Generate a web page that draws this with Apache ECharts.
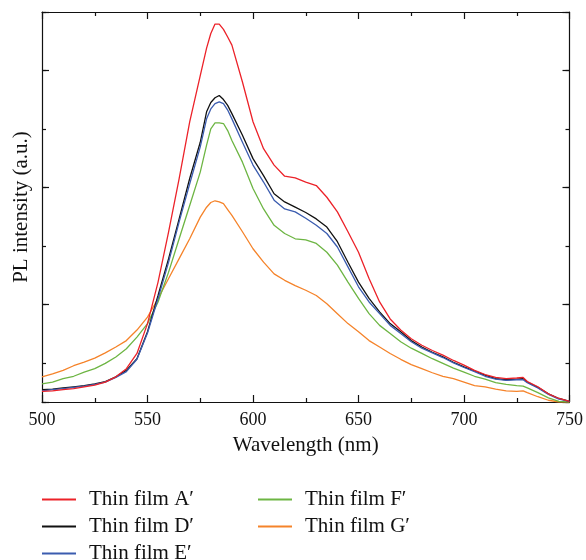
<!DOCTYPE html>
<html>
<head>
<meta charset="utf-8">
<script src="https://cdn.jsdelivr.net/npm/echarts@6/dist/echarts.min.js"></script>
<style>html,body{margin:0;padding:0;background:#fff;}#c{width:586px;height:560px;}</style>
</head>
<body>
<div id="c"></div>
<script>
// Wavelength grid (nm)
var wavelength = [500,505,510,515,520,525,530,535,540,545,550,555,560,565,570,575,578,580,582,584,586,588,590,595,600,605,610,615,620,625,630,635,640,645,650,655,660,665,670,675,680,685,690,695,700,705,710,715,720,725,728,730,735,740,745,750];
// PL intensity (a.u.)
var filmA = [0.18,0.19,0.21,0.23,0.26,0.29,0.34,0.43,0.57,0.83,1.34,2.05,2.91,3.82,4.79,5.58,6.05,6.30,6.46,6.46,6.37,6.24,6.10,5.47,4.79,4.33,4.05,3.86,3.83,3.76,3.70,3.50,3.25,2.91,2.56,2.11,1.71,1.42,1.23,1.08,0.97,0.88,0.80,0.71,0.63,0.54,0.47,0.42,0.40,0.41,0.42,0.35,0.26,0.14,0.06,0.01];
var filmD = [0.21,0.22,0.24,0.26,0.28,0.31,0.35,0.43,0.54,0.74,1.20,1.82,2.45,3.13,3.82,4.44,4.96,5.12,5.20,5.24,5.17,5.07,4.93,4.56,4.16,3.87,3.56,3.42,3.33,3.24,3.13,2.99,2.74,2.39,2.05,1.77,1.54,1.34,1.20,1.05,0.94,0.85,0.77,0.68,0.60,0.53,0.46,0.40,0.38,0.39,0.40,0.34,0.25,0.14,0.06,0.01];
var filmE = [0.19,0.21,0.23,0.25,0.27,0.30,0.34,0.42,0.52,0.73,1.18,1.77,2.39,3.08,3.73,4.36,4.84,5.01,5.10,5.13,5.10,4.99,4.84,4.44,4.05,3.76,3.45,3.30,3.25,3.14,3.02,2.88,2.65,2.31,1.97,1.71,1.51,1.31,1.17,1.03,0.92,0.84,0.76,0.67,0.59,0.52,0.44,0.39,0.37,0.38,0.38,0.33,0.24,0.13,0.05,0.01];
var filmF = [0.31,0.34,0.40,0.44,0.51,0.57,0.66,0.77,0.91,1.11,1.34,1.71,2.22,2.79,3.36,3.93,4.39,4.67,4.77,4.77,4.76,4.64,4.47,4.10,3.65,3.30,3.02,2.88,2.79,2.77,2.71,2.56,2.34,2.05,1.77,1.51,1.31,1.17,1.03,0.92,0.83,0.74,0.66,0.58,0.51,0.44,0.39,0.33,0.30,0.28,0.27,0.24,0.16,0.07,0.01,0.00];
var filmG = [0.43,0.48,0.54,0.62,0.68,0.75,0.84,0.94,1.05,1.23,1.45,1.77,2.11,2.45,2.79,3.16,3.33,3.41,3.44,3.42,3.39,3.29,3.19,2.91,2.62,2.39,2.19,2.08,1.99,1.91,1.82,1.68,1.51,1.34,1.20,1.05,0.94,0.83,0.73,0.64,0.57,0.50,0.44,0.40,0.34,0.28,0.26,0.22,0.19,0.18,0.19,0.16,0.09,0.03,0.00,0.00];
var seriesNames = ['Thin film A\u2032','Thin film D\u2032','Thin film E\u2032','Thin film F\u2032','Thin film G\u2032'];
var seriesColors = ['#ec2229','#111111','#3b5caf','#6db543','#f5832a'];

function pairs(ys){ return wavelength.map(function(x,i){ return [x, ys[i]]; }); }
var all = [filmA, filmD, filmE, filmF, filmG];
var drawOrder = [4,3,1,2,0];

var FONT = '"Liberation Serif", "DejaVu Serif", serif';
var axisLineStyle = {color:'#111', width:1.2};

function tickAxis(pos, iv, len){
  return {type:'value', position:pos, min:1/3, max:7, minInterval:iv, maxInterval:iv,
    axisLine:{show:false}, axisLabel:{show:false}, splitLine:{show:false},
    axisTick:{show:true, inside:true, length:len, lineStyle:axisLineStyle}};
}
function legendBlock(left, names){
  return {orient:'vertical', left:left, top:489, height:120, padding:0, itemWidth:34, itemHeight:2, itemGap:6, icon:'rect',
    data:names,
    textStyle:{fontFamily:FONT, fontSize:21, color:'#111', padding:[0,0,0,8]}};
}

var chart = echarts.init(document.getElementById('c'), null, {renderer:'canvas'});
chart.setOption({
  animation:false,
  backgroundColor:'#fff',
  grid:{left:42, right:15, top:12, bottom:158, containLabel:false},
  legend:[
    legendBlock(42, [seriesNames[0],seriesNames[1],seriesNames[2]]),
    legendBlock(258, [seriesNames[3],seriesNames[4]])
  ],
  xAxis:[
    {type:'value', position:'bottom', min:500, max:750, interval:50,
     name:'Wavelength (nm)', nameLocation:'middle', nameGap:33,
     nameTextStyle:{fontFamily:FONT, fontSize:21, color:'#111'},
     axisLine:{show:true, lineStyle:axisLineStyle},
     axisTick:{show:true, inside:true, length:7, lineStyle:axisLineStyle},
     minorTick:{show:true, splitNumber:2, length:4, lineStyle:axisLineStyle},
     axisLabel:{fontFamily:FONT, fontSize:18, color:'#111', margin:9},
     splitLine:{show:false}, minorSplitLine:{show:false}},
    {type:'value', position:'top', min:500, max:750, interval:50,
     axisLine:{show:true, lineStyle:axisLineStyle},
     axisTick:{show:true, inside:true, length:7, lineStyle:axisLineStyle},
     minorTick:{show:true, splitNumber:2, length:4, lineStyle:axisLineStyle},
     axisLabel:{show:false}, splitLine:{show:false}}
  ],
  yAxis:[
    {type:'value', position:'left', min:0, max:20/3,
     name:'PL intensity (a.u.)', nameLocation:'middle', nameGap:10,
     nameTextStyle:{fontFamily:FONT, fontSize:21, color:'#111'},
     axisLine:{show:true, lineStyle:axisLineStyle}, axisTick:{show:false},
     axisLabel:{show:false}, splitLine:{show:false}},
    tickAxis('left',1,4),
    tickAxis('left',2,7),
    (function(){ var a = tickAxis('right',1,4); a.axisLine = {show:true, lineStyle:axisLineStyle}; return a; })(),
    tickAxis('right',2,7)
  ],
  series: drawOrder.map(function(k){
    return {type:'line', name:seriesNames[k], data:pairs(all[k]), xAxisIndex:0, yAxisIndex:0,
      showSymbol:false, symbol:'none', smooth:false,
      lineStyle:{color:seriesColors[k], width:1.3}, itemStyle:{color:seriesColors[k]}};
  })
});
</script>
</body>
</html>
